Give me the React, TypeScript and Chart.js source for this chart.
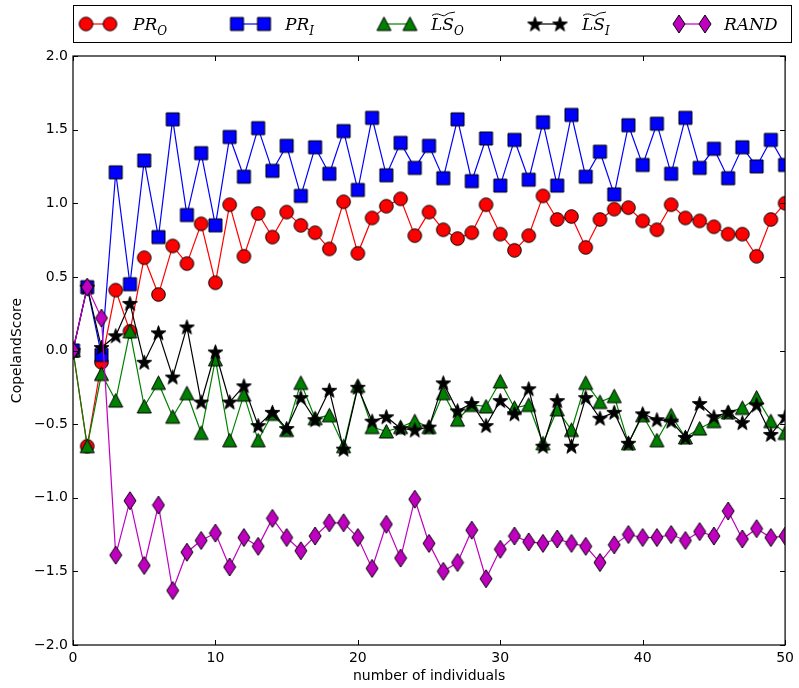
import React, { useEffect, useRef } from "react";
import { Chart, registerables } from "chart.js";

Chart.register(...registerables);

const individuals = [0,1,2,3,4,5,6,7,8,9,10,11,12,13,14,15,16,17,18,19,20,21,22,23,24,25,26,27,28,29,30,31,32,33,34,35,36,37,38,39,40,41,42,43,44,45,46,47,48,49,50];

const prO = [0,-0.65,-0.08,0.41,0.13,0.63,0.38,0.71,0.59,0.86,0.46,0.99,0.64,0.93,0.77,0.94,0.85,0.80,0.69,1.01,0.66,0.90,0.98,1.03,0.78,0.94,0.82,0.76,0.80,0.99,0.79,0.68,0.78,1.05,0.89,0.91,0.70,0.89,0.96,0.97,0.88,0.82,0.99,0.90,0.88,0.84,0.79,0.79,0.64,0.89,1.00];

const prI = [0,0.43,-0.03,1.21,0.45,1.29,0.77,1.57,0.92,1.34,0.85,1.45,1.18,1.51,1.22,1.39,1.05,1.38,1.20,1.49,1.09,1.58,1.19,1.41,1.24,1.39,1.17,1.57,1.15,1.44,1.12,1.43,1.16,1.55,1.12,1.60,1.18,1.35,1.06,1.53,1.26,1.54,1.20,1.58,1.24,1.37,1.17,1.38,1.25,1.43,1.26];

const lsO = [0,-0.65,-0.16,-0.34,0.13,-0.38,-0.22,-0.45,-0.29,-0.56,-0.06,-0.61,-0.30,-0.61,-0.43,-0.54,-0.22,-0.46,-0.44,-0.65,-0.24,-0.52,-0.55,-0.52,-0.48,-0.52,-0.29,-0.47,-0.37,-0.38,-0.21,-0.39,-0.37,-0.63,-0.40,-0.54,-0.22,-0.35,-0.31,-0.63,-0.44,-0.61,-0.44,-0.59,-0.53,-0.48,-0.42,-0.39,-0.32,-0.48,-0.56];

const lsI = [0,0.43,0.02,0.10,0.32,-0.08,0.12,-0.18,0.16,-0.35,-0.01,-0.35,-0.24,-0.51,-0.42,-0.53,-0.32,-0.47,-0.27,-0.67,-0.25,-0.48,-0.45,-0.53,-0.54,-0.52,-0.22,-0.41,-0.36,-0.51,-0.34,-0.43,-0.26,-0.65,-0.34,-0.65,-0.32,-0.46,-0.42,-0.63,-0.43,-0.47,-0.48,-0.59,-0.36,-0.45,-0.42,-0.49,-0.37,-0.57,-0.45];

const rand = [0,0.43,0.22,-1.39,-1.02,-1.46,-1.05,-1.63,-1.37,-1.29,-1.24,-1.47,-1.27,-1.33,-1.14,-1.27,-1.36,-1.26,-1.17,-1.17,-1.27,-1.48,-1.18,-1.41,-1.01,-1.31,-1.50,-1.44,-1.22,-1.55,-1.35,-1.26,-1.30,-1.31,-1.28,-1.31,-1.33,-1.44,-1.32,-1.25,-1.27,-1.27,-1.25,-1.29,-1.23,-1.26,-1.09,-1.28,-1.21,-1.27,-1.26];

const xTicks = [0, 10, 20, 30, 40, 50];
const yTicks = [-2.0, -1.5, -1.0, -0.5, 0.0, 0.5, 1.0, 1.5, 2.0];

const xTitle = "number of individuals";
const yTitle = "CopelandScore";

type MarkerKind = "o" | "s" | "^" | "*" | "d";

function makeMarker(kind: MarkerKind, fill: string): HTMLCanvasElement {
  const c = document.createElement("canvas");
  const w = kind === "d" ? 14 : 17;
  const h = kind === "d" ? 20 : 17;
  c.width = w;
  c.height = h;
  const ctx = c.getContext("2d")!;
  const cx = w / 2;
  const cy = h / 2;
  ctx.fillStyle = fill;
  ctx.strokeStyle = "#000";
  ctx.lineWidth = 1;
  ctx.lineJoin = "miter";
  ctx.beginPath();
  if (kind === "o") {
    ctx.arc(cx, cy, 6.8, 0, Math.PI * 2);
  } else if (kind === "s") {
    ctx.rect(cx - 6.5, cy - 6.5, 13, 13);
  } else if (kind === "^") {
    ctx.moveTo(cx, cy - 7);
    ctx.lineTo(cx + 7, cy + 6.5);
    ctx.lineTo(cx - 7, cy + 6.5);
    ctx.closePath();
  } else if (kind === "*") {
    const R = 7.8, r = 3.1;
    for (let i = 0; i < 10; i++) {
      const ang = -Math.PI / 2 + (i * Math.PI) / 5;
      const rr = i % 2 === 0 ? R : r;
      const px = cx + rr * Math.cos(ang);
      const py = cy + 0.6 + rr * Math.sin(ang);
      if (i === 0) ctx.moveTo(px, py);
      else ctx.lineTo(px, py);
    }
    ctx.closePath();
  } else {
    ctx.moveTo(cx, cy - 9);
    ctx.lineTo(cx + 6, cy);
    ctx.lineTo(cx, cy + 9);
    ctx.lineTo(cx - 6, cy);
    ctx.closePath();
  }
  ctx.fill();
  ctx.stroke();
  return c;
}

type LegendItem = { color: string; kind: MarkerKind; base: string; sub: string; tilde: boolean; x1: number; x2: number; tx: number };

const legendItems: LegendItem[] = [
  { color: "#ff0000", kind: "o", base: "PR", sub: "O", tilde: false, x1: 86, x2: 110, tx: 133 },
  { color: "#0000ff", kind: "s", base: "PR", sub: "I", tilde: false, x1: 237, x2: 264, tx: 285 },
  { color: "#008000", kind: "^", base: "LS", sub: "O", tilde: true, x1: 384, x2: 410, tx: 431 },
  { color: "#000000", kind: "*", base: "LS", sub: "I", tilde: true, x1: 535, x2: 560, tx: 582 },
  { color: "#bf00bf", kind: "d", base: "RAND", sub: "", tilde: false, x1: 679, x2: 705, tx: 724 },
];

export default function App() {
  const ref = useRef<HTMLCanvasElement | null>(null);

  useEffect(() => {
    const canvas = ref.current;
    if (!canvas) return;
    const markers: Record<MarkerKind, HTMLCanvasElement> = {
      o: makeMarker("o", "#ff0000"),
      s: makeMarker("s", "#0000ff"),
      "^": makeMarker("^", "#008000"),
      "*": makeMarker("*", "#000000"),
      d: makeMarker("d", "#bf00bf"),
    };

    const series = [
      { label: "PR_O", values: prO, color: "#ff0000", kind: "o" as MarkerKind, order: 5 },
      { label: "PR_I", values: prI, color: "#0000ff", kind: "s" as MarkerKind, order: 4 },
      { label: "LS_O", values: lsO, color: "#008000", kind: "^" as MarkerKind, order: 3 },
      { label: "LS_I", values: lsI, color: "#000000", kind: "*" as MarkerKind, order: 2 },
      { label: "RAND", values: rand, color: "#bf00bf", kind: "d" as MarkerKind, order: 1 },
    ];

    const framePlugin = {
      id: "mplFrame",
      afterDatasetsDraw(chart: any) {
        const { ctx, chartArea: a, scales } = chart;
        ctx.save();
        ctx.strokeStyle = "#000";
        ctx.lineWidth = 1.2;
        ctx.strokeRect(a.left, a.top, a.right - a.left, a.bottom - a.top);
        ctx.lineWidth = 1;
        const tl = 5;
        ctx.beginPath();
        for (const v of xTicks) {
          const px = Math.round(scales.x.getPixelForValue(v)) + 0.5;
          ctx.moveTo(px, a.bottom);
          ctx.lineTo(px, a.bottom - tl);
          ctx.moveTo(px, a.top);
          ctx.lineTo(px, a.top + tl);
        }
        for (const v of yTicks) {
          const py = Math.round(scales.y.getPixelForValue(v)) + 0.5;
          ctx.moveTo(a.left, py);
          ctx.lineTo(a.left + tl, py);
          ctx.moveTo(a.right, py);
          ctx.lineTo(a.right - tl, py);
        }
        ctx.stroke();
        ctx.restore();
      },
      afterDraw(chart: any) {
        const { ctx } = chart;
        ctx.save();
        // legend box
        ctx.fillStyle = "#fff";
        ctx.fillRect(73, 5, 719, 38);
        ctx.strokeStyle = "#000";
        ctx.lineWidth = 1;
        ctx.strokeRect(73.5, 5.5, 718, 37);
        const cy = 24;
        for (const it of legendItems) {
          ctx.strokeStyle = it.color;
          ctx.lineWidth = 1.2;
          ctx.beginPath();
          ctx.moveTo(it.x1, cy);
          ctx.lineTo(it.x2, cy);
          ctx.stroke();
          const m = markers[it.kind];
          ctx.drawImage(m, it.x1 - m.width / 2, cy - m.height / 2);
          ctx.drawImage(m, it.x2 - m.width / 2, cy - m.height / 2);
          ctx.fillStyle = "#000";
          ctx.font = "italic 17px 'DejaVu Serif'";
          ctx.textBaseline = "alphabetic";
          ctx.textAlign = "left";
          ctx.fillText(it.base, it.tx, 30);
          const bw = ctx.measureText(it.base).width;
          if (it.tilde) {
            ctx.strokeStyle = "#000";
            ctx.lineWidth = 1;
            ctx.beginPath();
            const x0 = it.tx + 1;
            const x1 = it.tx + bw + 1;
            const ty = 14;
            ctx.moveTo(x0, ty + 1.5);
            ctx.bezierCurveTo(x0 + (x1 - x0) * 0.3, ty - 3, x0 + (x1 - x0) * 0.45, ty + 4, x0 + (x1 - x0) * 0.6, ty + 1);
            ctx.bezierCurveTo(x0 + (x1 - x0) * 0.75, ty - 2, x0 + (x1 - x0) * 0.9, ty - 1, x1, ty - 2);
            ctx.stroke();
          }
          if (it.sub) {
            ctx.font = "italic 12px 'DejaVu Serif'";
            ctx.fillText(it.sub, it.tx + bw, 35);
          }
        }
        ctx.restore();
      },
    };

    const chart = new Chart(canvas, {
      type: "line",
      data: {
        datasets: series.map((s) => ({
          label: s.label,
          data: s.values.map((v, i) => ({ x: individuals[i], y: v })),
          borderColor: s.color,
          backgroundColor: s.color,
          borderWidth: 1.2,
          pointStyle: markers[s.kind],
          pointRadius: 7,
          pointHoverRadius: 7,
          tension: 0,
          fill: false,
          order: s.order,
          clip: 0,
        })),
      },
      options: {
        animation: false,
        responsive: false,
        devicePixelRatio: 1,
        events: [],
        layout: { padding: { top: 56, right: 11, left: 0, bottom: 0 } },
        plugins: { legend: { display: false }, tooltip: { enabled: false } },
        scales: {
          x: {
            type: "linear",
            min: 0,
            max: 50,
            afterBuildTicks: (scale: any) => {
              scale.ticks = xTicks.map((v) => ({ value: v }));
            },
            afterFit: (scale: any) => {
              scale.height = 43;
            },
            grid: { display: false, drawTicks: false },
            border: { display: false },
            ticks: {
              color: "#000",
              padding: 5,
              maxRotation: 0,
              font: { family: "'DejaVu Sans'", size: 14 },
              callback: (v: any) => String(v),
            },
            title: {
              display: true,
              text: xTitle,
              color: "#000",
              font: { family: "'DejaVu Sans'", size: 14 },
              padding: { top: 0, bottom: 3 },
            },
          },
          y: {
            type: "linear",
            min: -2,
            max: 2,
            afterBuildTicks: (scale: any) => {
              scale.ticks = yTicks.map((v) => ({ value: v }));
            },
            afterFit: (scale: any) => {
              scale.width = 73;
            },
            grid: { display: false, drawTicks: false },
            border: { display: false },
            ticks: {
              color: "#000",
              padding: 5,
              font: { family: "'DejaVu Sans'", size: 14 },
              callback: (v: any) => Number(v).toFixed(1).replace("-", "\u2212"),
            },
            title: {
              display: true,
              text: yTitle,
              color: "#000",
              font: { family: "'DejaVu Sans'", size: 14 },
              padding: { top: 9, bottom: 0 },
            },
          },
        },
      },
      plugins: [framePlugin],
    } as any);

    return () => chart.destroy();
  }, []);

  return (
    <div style={{ position: "fixed", left: 0, top: 0, width: 799, height: 688, background: "#fff" }}>
      <canvas ref={ref} width={799} height={688} style={{ width: 799, height: 688, display: "block" }} />
    </div>
  );
}
